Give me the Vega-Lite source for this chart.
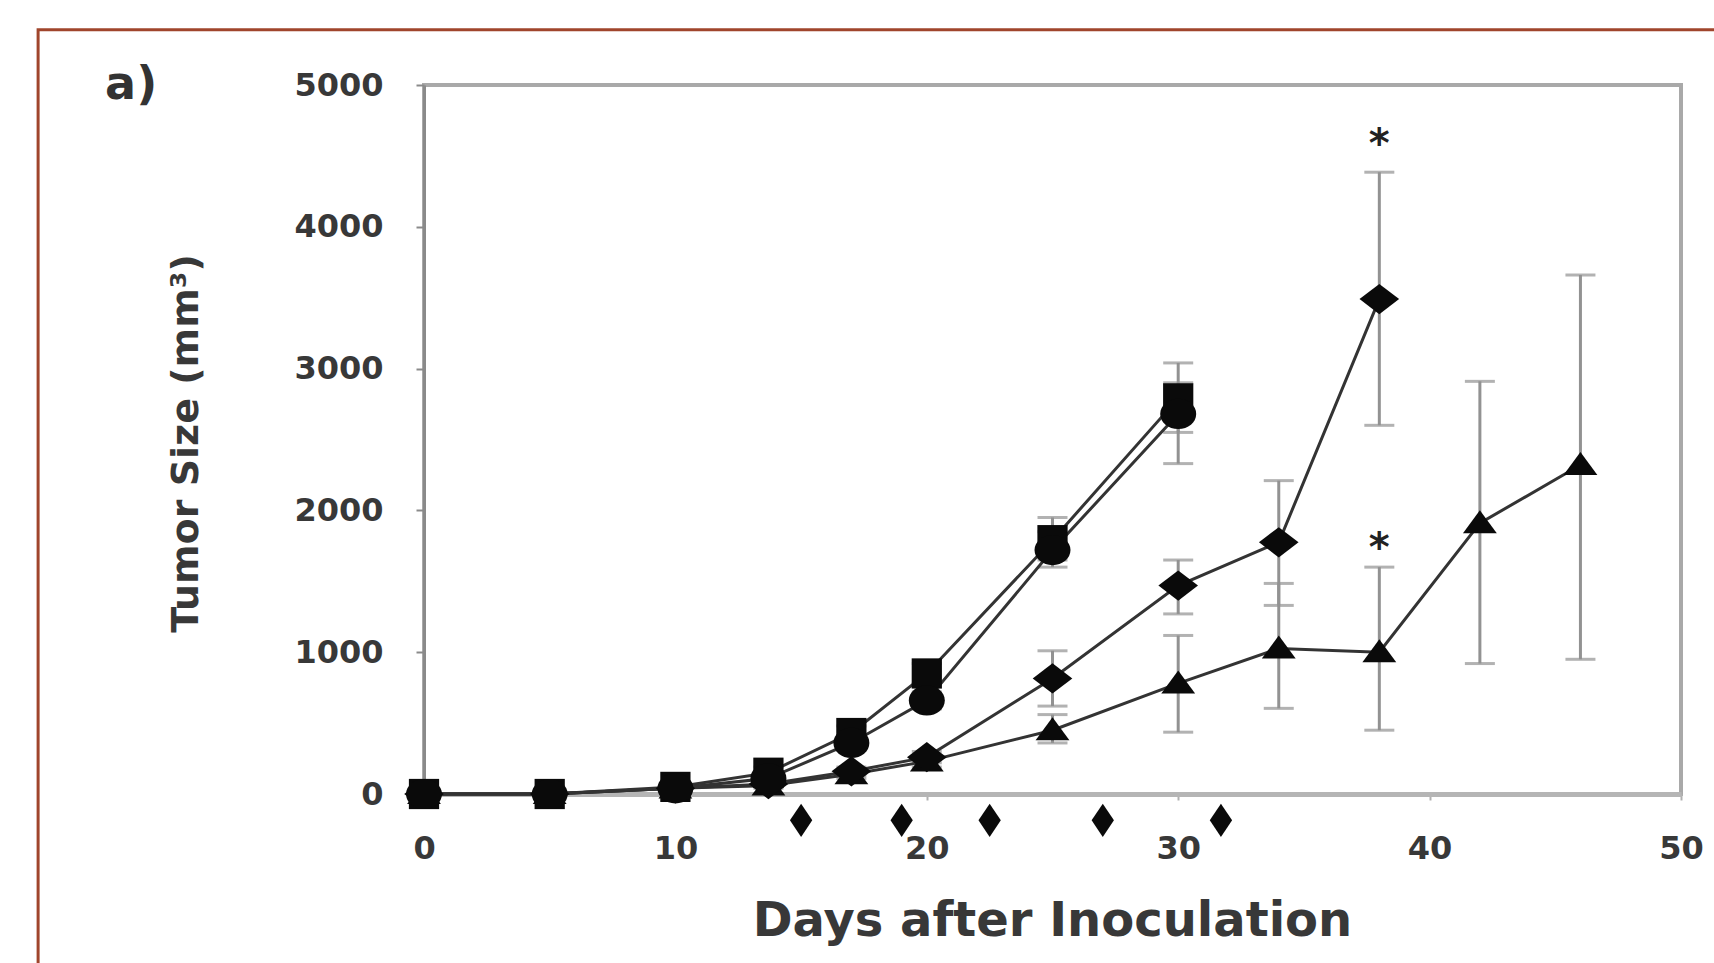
{
  "$schema": "https://vega.github.io/schema/vega-lite/v6.json",
  "width": 1257,
  "height": 709,
  "autosize": {"type": "none"},
  "padding": {"left": 424, "top": 85, "right": 33, "bottom": 169},
  "background": "white",
  "config": {"view": {"stroke": "#a9a9a9", "strokeWidth": 4}, "font": "DejaVu Sans"},
  "datasets": {
    "growth": [
      {"series": "T", "day": 0, "value": 0, "lo": 0, "hi": 0},
      {"series": "T", "day": 5, "value": 0, "lo": 0, "hi": 0},
      {"series": "T", "day": 10, "value": 40, "lo": 30, "hi": 50},
      {"series": "T", "day": 13.7, "value": 60, "lo": 40, "hi": 80},
      {"series": "T", "day": 17, "value": 140, "lo": 110, "hi": 170},
      {"series": "T", "day": 20, "value": 230, "lo": 190, "hi": 270},
      {"series": "T", "day": 25, "value": 450, "lo": 360, "hi": 560},
      {"series": "T", "day": 30, "value": 780, "lo": 436, "hi": 1118},
      {"series": "T", "day": 34, "value": 1026, "lo": 604, "hi": 1485},
      {"series": "T", "day": 38, "value": 1000, "lo": 450, "hi": 1600},
      {"series": "T", "day": 42, "value": 1910, "lo": 920, "hi": 2910},
      {"series": "T", "day": 46, "value": 2320, "lo": 950, "hi": 3660},
      {"series": "D", "day": 0, "value": 0, "lo": 0, "hi": 0},
      {"series": "D", "day": 5, "value": 0, "lo": 0, "hi": 0},
      {"series": "D", "day": 10, "value": 40, "lo": 30, "hi": 50},
      {"series": "D", "day": 13.7, "value": 70, "lo": 50, "hi": 90},
      {"series": "D", "day": 17, "value": 160, "lo": 130, "hi": 190},
      {"series": "D", "day": 20, "value": 260, "lo": 220, "hi": 300},
      {"series": "D", "day": 25, "value": 815, "lo": 620, "hi": 1010},
      {"series": "D", "day": 30, "value": 1470, "lo": 1270, "hi": 1650},
      {"series": "D", "day": 34, "value": 1775, "lo": 1330, "hi": 2210},
      {"series": "D", "day": 38, "value": 3490, "lo": 2600, "hi": 4385},
      {"series": "A", "day": 0, "value": 0, "lo": 0, "hi": 0},
      {"series": "A", "day": 5, "value": 0, "lo": 0, "hi": 0},
      {"series": "A", "day": 10, "value": 50, "lo": 40, "hi": 60},
      {"series": "A", "day": 13.7, "value": 150, "lo": 110, "hi": 190},
      {"series": "A", "day": 17, "value": 430, "lo": 380, "hi": 480},
      {"series": "A", "day": 20, "value": 850, "lo": 780, "hi": 920},
      {"series": "A", "day": 25, "value": 1790, "lo": 1650, "hi": 1950},
      {"series": "A", "day": 30, "value": 2790, "lo": 2550, "hi": 3040},
      {"series": "B", "day": 0, "value": 0, "lo": 0, "hi": 0},
      {"series": "B", "day": 5, "value": 0, "lo": 0, "hi": 0},
      {"series": "B", "day": 10, "value": 40, "lo": 30, "hi": 50},
      {"series": "B", "day": 13.7, "value": 110, "lo": 80, "hi": 140},
      {"series": "B", "day": 17, "value": 360, "lo": 310, "hi": 410},
      {"series": "B", "day": 20, "value": 660, "lo": 600, "hi": 720},
      {"series": "B", "day": 25, "value": 1720, "lo": 1600, "hi": 1850},
      {"series": "B", "day": 30, "value": 2680, "lo": 2330, "hi": 2900}
    ],
    "treatment": [
      {"day": 15, "value": -186},
      {"day": 19, "value": -186},
      {"day": 22.5, "value": -186},
      {"day": 27, "value": -186},
      {"day": 31.7, "value": -186}
    ],
    "significance": [
      {"day": 38, "value": 4490, "label": "*"},
      {"day": 38, "value": 1640, "label": "*"}
    ],
    "panel": [
      {"label": "a)"}
    ]
  },
  "layer": [
    {
      "data": {"name": "panel"},
      "mark": {"type": "rect", "fillOpacity": 0, "stroke": "#a0452c", "strokeWidth": 3},
      "encoding": {
        "x": {"datum": -15.35, "type": "quantitative"},
        "x2": {"datum": 52.5},
        "y": {"datum": 5390, "type": "quantitative"},
        "y2": {"datum": -1400}
      }
    },
    {
      "data": {"name": "panel"},
      "mark": {"type": "text", "font": "DejaVu Sans", "fontSize": 46, "fontWeight": "bold", "color": "#333333", "align": "center", "baseline": "middle"},
      "encoding": {
        "x": {"datum": -11.65, "type": "quantitative"},
        "y": {"datum": 5000, "type": "quantitative"},
        "text": {"field": "label"}
      }
    },
    {
      "data": {"name": "growth"},
      "mark": {"type": "rule", "color": "#929292", "strokeWidth": 3},
      "encoding": {
        "x": {"field": "day", "type": "quantitative"},
        "y": {"field": "lo", "type": "quantitative"},
        "y2": {"field": "hi"}
      }
    },
    {
      "data": {"name": "growth"},
      "mark": {"type": "tick", "orient": "horizontal", "color": "#929292", "size": 30, "thickness": 3},
      "encoding": {
        "x": {"field": "day", "type": "quantitative"},
        "y": {"field": "lo", "type": "quantitative"}
      }
    },
    {
      "data": {"name": "growth"},
      "mark": {"type": "tick", "orient": "horizontal", "color": "#929292", "size": 30, "thickness": 3},
      "encoding": {
        "x": {"field": "day", "type": "quantitative"},
        "y": {"field": "hi", "type": "quantitative"}
      }
    },
    {
      "data": {"name": "growth"},
      "mark": {"type": "line", "color": "#333333", "strokeWidth": 3},
      "encoding": {
        "x": {
          "field": "day",
          "type": "quantitative",
          "scale": {"domain": [0, 50], "nice": false, "zero": false},
          "axis": {
            "values": [0, 10, 20, 30, 40, 50],
            "format": "d",
            "grid": false,
            "labelFontSize": 32,
            "labelFont": "DejaVu Sans",
            "labelFontWeight": "bold",
            "labelColor": "#383838",
            "labelPadding": 33,
            "labelFlush": false,
            "labelOverlap": false,
            "tickSize": 6,
            "tickColor": "#b0b0b0",
            "tickWidth": 2,
            "domainColor": "#b5b5b5",
            "domainWidth": 5,
            "title": "Days after Inoculation",
            "titleFont": "DejaVu Sans",
            "titleFontSize": 48,
            "titleFontWeight": "bold",
            "titleColor": "#383838",
            "titleX": 628,
            "titleY": 127,
            "titleAlign": "center",
            "titleBaseline": "middle"
          }
        },
        "y": {
          "field": "value",
          "type": "quantitative",
          "scale": {"domain": [0, 5000], "nice": false, "zero": false},
          "axis": {
            "values": [0, 1000, 2000, 3000, 4000, 5000],
            "format": "d",
            "grid": false,
            "labelFontSize": 32,
            "labelFont": "DejaVu Sans",
            "labelFontWeight": "bold",
            "labelColor": "#383838",
            "labelPadding": 33,
            "labelFlush": false,
            "labelOverlap": false,
            "tickSize": 8,
            "tickColor": "#8a8a8a",
            "tickWidth": 2,
            "domainColor": "#8a8a8a",
            "domainWidth": 3,
            "title": "Tumor Size (mm³)",
            "titleFont": "DejaVu Sans",
            "titleFontSize": 38,
            "titleFontWeight": "bold",
            "titleColor": "#383838",
            "titleAngle": 270,
            "titleX": -238,
            "titleY": 358,
            "titleAlign": "center",
            "titleBaseline": "middle"
          }
        },
        "detail": {"field": "series"}
      }
    },
    {
      "data": {"name": "growth"},
      "mark": {"type": "point", "filled": true, "color": "#0a0a0a", "opacity": 1, "size": 1296},
      "encoding": {
        "x": {"field": "day", "type": "quantitative"},
        "y": {"field": "value", "type": "quantitative"},
        "shape": {
          "field": "series",
          "type": "nominal",
          "legend": null,
          "scale": {
            "domain": ["T", "D", "B", "A"],
            "range": [
              "M-0.94,0.56L0,-0.72L0.94,0.56Z",
              "M-1.1,0L0,-0.84L1.1,0L0,0.84Z",
              "M1,0A1,0.84,0,1,1,-1,0A1,0.84,0,1,1,1,0Z",
              "M-0.84,-0.84L0.84,-0.84L0.84,0.84L-0.84,0.84Z"
            ]
          }
        }
      }
    },
    {
      "data": {"name": "treatment"},
      "mark": {"type": "point", "filled": true, "color": "#0a0a0a", "opacity": 1, "size": 1296, "shape": "M0,-0.92L0.62,0L0,0.92L-0.62,0Z"},
      "encoding": {
        "x": {"field": "day", "type": "quantitative"},
        "y": {"field": "value", "type": "quantitative"}
      }
    },
    {
      "data": {"name": "significance"},
      "mark": {"type": "text", "fontSize": 40, "fontWeight": "bold", "font": "DejaVu Sans", "color": "#222222", "align": "center", "baseline": "alphabetic"},
      "encoding": {
        "x": {"field": "day", "type": "quantitative"},
        "y": {"field": "value", "type": "quantitative"},
        "text": {"field": "label"}
      }
    }
  ]
}
